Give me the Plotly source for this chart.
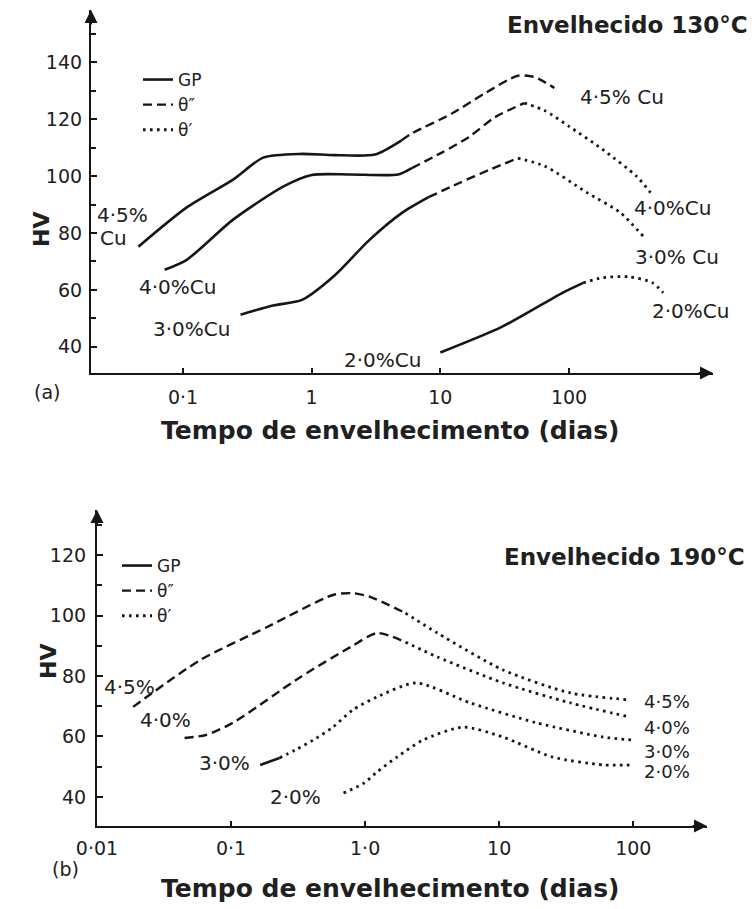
import numpy as np
import plotly.graph_objects as go

# ---------------- data: panel (a) aged at 130 °C ----------------
A_45_DAYS = [0.045, 0.107, 0.245, 0.42, 0.81, 1.5, 3.1, 5.0, 6.0, 12.3, 22, 40, 54, 77]
A_45_HV = [75.2, 89.0, 98.8, 106.5, 107.8, 107.4, 107.6, 112.6, 115.0, 122.0, 129.0, 135.3, 134.8, 131.0]
A_45_PHASE = ["GP"] * 8 + ["θ''"] * 6

A_40_DAYS = [0.072, 0.107, 0.245, 0.6, 1.0, 2.0, 4.7, 6.0, 10, 16.6, 26.5, 45, 65, 100, 182, 336, 430]
A_40_HV = [67.1, 70.6, 84.7, 96.3, 100.4, 100.6, 100.6, 102.8, 108.0, 113.7, 120.7, 125.7, 123.0, 117.5, 109.4, 99.9, 94.2]
A_40_PHASE = ["GP"] * 8 + ["θ''"] * 4 + ["θ'"] * 5

A_30_DAYS = [0.28, 0.5, 0.84, 1.5, 2.8, 5.0, 8.1, 13.9, 23.7, 40, 65, 138, 250, 380]
A_30_HV = [51.3, 54.5, 56.5, 65.0, 77.5, 87.0, 92.6, 97.5, 102.1, 106.3, 103.5, 94.2, 87.2, 78.7]
A_30_PHASE = ["GP"] * 7 + ["θ''"] * 3 + ["θ'"] * 4

A_20_DAYS = [10, 30, 89, 129, 182, 296, 445, 540]
A_20_HV = [38.0, 47.0, 59.0, 62.5, 64.3, 64.6, 62.5, 59.0]
A_20_PHASE = ["GP"] * 4 + ["θ'"] * 4

# ---------------- data: panel (b) aged at 190 °C ----------------
B_45_DAYS = [0.0186, 0.059, 0.186, 0.576, 0.81, 1.1, 2.0, 3.46, 10.7, 34, 95]
B_45_HV = [69.8, 85.3, 96.2, 106.8, 107.4, 106.1, 100.8, 94.2, 82.0, 74.4, 72.1]
B_45_PHASE = ["θ''"] * 7 + ["θ'"] * 4

B_40_DAYS = [0.045, 0.065, 0.103, 0.33, 0.78, 1.23, 2.0, 3.46, 10.7, 34, 95]
B_40_HV = [59.5, 60.5, 64.5, 79.7, 89.6, 94.2, 91.2, 86.3, 77.7, 71.1, 66.4]
B_40_PHASE = ["θ''"] * 7 + ["θ'"] * 4

B_30_DAYS = [0.165, 0.23, 0.30, 0.41, 0.575, 0.81, 1.23, 2.4, 6.1, 19, 60, 100]
B_30_HV = [50.6, 52.9, 55.5, 58.8, 63.1, 68.8, 73.1, 77.7, 71.1, 64.5, 59.8, 58.8]
B_30_PHASE = ["GP"] * 2 + ["θ'"] * 10

B_20_DAYS = [0.69, 0.98, 1.23, 1.73, 2.7, 5.4, 10.7, 25, 60, 100]
B_20_HV = [41.3, 44.6, 48.3, 53.2, 58.8, 63.1, 59.8, 53.2, 50.6, 50.6]
B_20_PHASE = ["θ'"] * 10

# tick labels
A_XTICKS = [0.1, 1, 10, 100]
A_XTICKTEXT = ["0·1", "1", "10", "100"]
A_YTICKS = [40, 60, 80, 100, 120, 140]
B_XTICKS = [0.01, 0.1, 1, 10, 100]
B_XTICKTEXT = ["0·01", "0·1", "1·0", "10", "100"]
B_YTICKS = [40, 60, 80, 100, 120]

# curve labels: (text, days, HV, xanchor, font size)
A_LABELS = [
    ("4·5%", 0.0207, 86.3, "left", 20), ("Cu", 0.0219, 78.2, "left", 20),
    ("4·0%Cu", 0.0914, 61.1, "center", 20), ("3·0%Cu", 0.117, 46.3, "center", 20),
    ("2·0%Cu", 3.58, 35.4, "center", 20), ("4·5% Cu", 259, 127.7, "center", 20),
    ("4·0%Cu", 642, 88.8, "center", 20), ("3·0% Cu", 690, 71.6, "center", 20),
    ("2·0%Cu", 872, 52.6, "center", 20),
]
B_LABELS = [
    ("4·5%", 0.01734, 76.4, "center", 20), ("4·0%", 0.0327, 65.5, "center", 20),
    ("3·0%", 0.0887, 51.2, "center", 20), ("2·0%", 0.305, 40.0, "center", 20),
    ("4·5%", 179.5, 71.7, "center", 18), ("4·0%", 179.5, 63.1, "center", 18),
    ("3·0%", 179.5, 55.2, "center", 18), ("2·0%", 179.5, 48.3, "center", 18),
]

PHASES = ["GP", "θ''", "θ'"]
PHASE_NAMES = {"GP": "GP", "θ''": "θ″", "θ'": "θ′"}
INK = "#161616"
TXT = "#202020"
DASH = {"GP": "solid", "θ''": "9px,5px", "θ'": "2.6px,4.4px"}
WIDTH = {"GP": 2.6, "θ''": 2.4, "θ'": 2.8}


def runs(days, hv, phase):
    segs = []
    start = 0
    for i in range(1, len(phase) + 1):
        if i == len(phase) or phase[i] != phase[start]:
            s = max(start - 1, 0)
            segs.append((phase[start], days[s:i], hv[s:i]))
            start = i
    return segs


fig = go.Figure()

curves_a = [(A_45_DAYS, A_45_HV, A_45_PHASE), (A_40_DAYS, A_40_HV, A_40_PHASE),
            (A_30_DAYS, A_30_HV, A_30_PHASE), (A_20_DAYS, A_20_HV, A_20_PHASE)]
curves_b = [(B_45_DAYS, B_45_HV, B_45_PHASE), (B_40_DAYS, B_40_HV, B_40_PHASE),
            (B_30_DAYS, B_30_HV, B_30_PHASE), (B_20_DAYS, B_20_HV, B_20_PHASE)]

for curves, xa, ya in [(curves_a, "x", "y"), (curves_b, "x2", "y2")]:
    for d, h, p in curves:
        for ph, xs, ys in runs(d, h, p):
            fig.add_trace(go.Scatter(
                x=xs, y=ys, mode="lines", xaxis=xa, yaxis=ya, showlegend=False,
                line=dict(color=INK, width=WIDTH[ph], dash=DASH[ph], shape="spline", smoothing=0.7),
                hoverinfo="skip"))

# legend entries (one legend per panel)
for lg, xa, ya in [("legend", "x", "y"), ("legend2", "x2", "y2")]:
    for ph in PHASES:
        fig.add_trace(go.Scatter(
            x=[None], y=[None], mode="lines", xaxis=xa, yaxis=ya, name=PHASE_NAMES[ph],
            legend=lg, line=dict(color=INK, width=WIDTH[ph], dash=DASH[ph])))

W, H = 755, 909
TICKFONT = dict(family="DejaVu Sans", size=19, color=TXT)
BOLD = dict(family="DejaVu Sans", size=23, color=TXT, weight="bold")

axis_common = dict(showline=True, linewidth=2.2, linecolor=INK, showgrid=False, zeroline=False,
                   ticks="inside", tickwidth=2, tickcolor=INK, tickfont=TICKFONT, mirror=False,
                   automargin=False)

fig.update_layout(
    width=W, height=H, margin=dict(l=0, r=0, t=0, b=0, autoexpand=False),
    paper_bgcolor="white", plot_bgcolor="white",
    xaxis=dict(axis_common, type="log", domain=[91 / W, 713 / W], range=[-1.715, 3.119],
               tickvals=A_XTICKS, ticktext=A_XTICKTEXT, ticklen=5, anchor="y", ticklabelstandoff=6),
    yaxis=dict(axis_common, domain=[1 - 373 / H, 1 - 10 / H], range=[30.8, 158.4],
               tickvals=A_YTICKS, ticklen=6, anchor="x", ticklabelstandoff=3,
               minor=dict(dtick=10, tick0=30, ticks="inside", ticklen=5, tickwidth=2, tickcolor=INK)),
    xaxis2=dict(axis_common, type="log", domain=[97 / W, 707 / W], range=[-2.0, 2.55],
                tickvals=B_XTICKS, ticktext=B_XTICKTEXT, ticklen=5, anchor="y2", ticklabelstandoff=4),
    yaxis2=dict(axis_common, domain=[1 - 826 / H, 1 - 510 / H], range=[30.4, 134.9],
                tickvals=B_YTICKS, ticklen=6, anchor="x2", ticklabelstandoff=5,
                minor=dict(dtick=10, tick0=30, ticks="inside", ticklen=5, tickwidth=2, tickcolor=INK)),
    legend=dict(x=138 / W, y=1 - 62 / H, xanchor="left", yanchor="top", bgcolor="rgba(0,0,0,0)",
                font=dict(family="DejaVu Sans", size=17, color=TXT), itemwidth=30,
                tracegroupgap=0),
    legend2=dict(x=117 / W, y=1 - 548 / H, xanchor="left", yanchor="top", bgcolor="rgba(0,0,0,0)",
                 font=dict(family="DejaVu Sans", size=17, color=TXT), itemwidth=30,
                 tracegroupgap=0),
)

ann = []
for labels, xr, yr in [(A_LABELS, "x", "y"), (B_LABELS, "x2", "y2")]:
    for txt, d, h, xanc, fs in labels:
        ann.append(dict(text=txt, x=np.log10(d), y=h, xref=xr, yref=yr, showarrow=False,
                        xanchor=xanc, yanchor="middle",
                        font=dict(family="DejaVu Sans", size=fs, color=TXT)))

# titles and axis titles
ann += [
    dict(text="Envelhecido 130°C", x=750 / W, y=1 - 25 / H, xref="paper", yref="paper",
         xanchor="right", yanchor="middle", showarrow=False, font=BOLD),
    dict(text="Envelhecido 190°C", x=747 / W, y=1 - 557 / H, xref="paper", yref="paper",
         xanchor="right", yanchor="middle", showarrow=False, font=BOLD),
    dict(text="Tempo de envelhecimento (dias)", x=390 / W, y=1 - 430 / H, xref="paper", yref="paper",
         xanchor="center", yanchor="middle", showarrow=False,
         font=dict(family="DejaVu Sans", size=25, color=TXT, weight="bold")),
    dict(text="Tempo de envelhecimento (dias)", x=390 / W, y=1 - 888 / H, xref="paper", yref="paper",
         xanchor="center", yanchor="middle", showarrow=False,
         font=dict(family="DejaVu Sans", size=25, color=TXT, weight="bold")),
    dict(text="HV", x=27 / W, y=1 - 210 / H, xref="paper", yref="paper", textangle=-90,
         showarrow=False, font=dict(family="DejaVu Sans", size=22, color=TXT, weight="bold")),
    dict(text="HV", x=34 / W, y=1 - 681 / H, xref="paper", yref="paper", textangle=-90,
         showarrow=False, font=dict(family="DejaVu Sans", size=22, color=TXT, weight="bold")),
    dict(text="(a)", x=32 / W, y=1 - 392 / H, xref="paper", yref="paper", showarrow=False,
         font=dict(family="DejaVu Sans", size=19, color=TXT)),
    dict(text="(b)", x=50 / W, y=1 - 882 / H, xref="paper", yref="paper", showarrow=False,
         font=dict(family="DejaVu Sans", size=19, color=TXT)),
]

# axis arrowheads
for xd, yd in [("x domain", "y domain"), ("x2 domain", "y2 domain")]:
    ann.append(dict(text="", x=1, y=0, xref=xd, yref=yd, ax=-16, ay=0, showarrow=True,
                    arrowhead=2, arrowsize=1.3, arrowwidth=2, arrowcolor=INK))
    ann.append(dict(text="", x=0, y=1, xref=xd, yref=yd, ax=0, ay=16, showarrow=True,
                    arrowhead=2, arrowsize=1.3, arrowwidth=2, arrowcolor=INK))

fig.update_layout(annotations=ann)
fig.write_html("out.html")
